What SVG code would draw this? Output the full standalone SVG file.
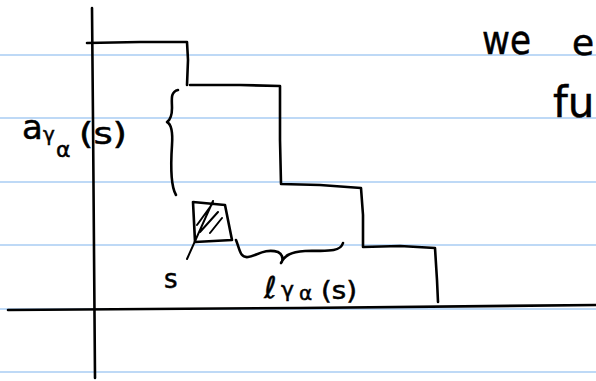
<svg xmlns="http://www.w3.org/2000/svg" width="596" height="381" viewBox="0 0 596 381">
<style>
.rule{stroke:#a9cdf3;stroke-width:1.6;fill:none}
.ink{stroke:#000;stroke-width:2.6;fill:none;stroke-linecap:round;stroke-linejoin:round}
.thin{stroke:#000;stroke-width:2;fill:none;stroke-linecap:round}
.t{font-family:"DejaVu Sans","Liberation Sans",sans-serif;fill:#000;stroke:#000;stroke-width:0.5}
</style>
<rect width="596" height="381" fill="#fff"/>
<g id="rules">
<line class="rule" x1="0" y1="55" x2="596" y2="55"/>
<line class="rule" x1="0" y1="118" x2="596" y2="118"/>
<line class="rule" x1="0" y1="182" x2="596" y2="182"/>
<line class="rule" x1="0" y1="245" x2="596" y2="245"/>
<line class="rule" x1="0" y1="309" x2="596" y2="309"/>
<line class="rule" x1="0" y1="372" x2="596" y2="372"/>
</g>
<g id="axes">
<path class="ink" d="M92,8 L93,120 L94,250 L95,378"/>
<path class="ink" d="M8,310 L300,308 L596,305"/>
</g>
<g id="staircase">
<path class="ink" d="M87,43 L140,42 L187,42 L188,60 L187,85 M190,85 L240,85 L280,86 L280,140 L281,184 L320,185 L361,188 L363,215 L363,247 L400,246 L435,248 L437,280 L438,302"/>
</g>
<g id="brace-a">
<path class="ink" d="M178,90 C170,92 172,100 172,108 C172,116 170,120 167,122 C171,124 173,130 172,145 C171,160 170,185 176,195"/>
</g>
<g id="square-s">
<path class="ink" d="M193,202 L225,205 L232,240 L195,242 Z M195,241 L193,202"/>
<path class="thin" d="M197,225 L213,203 M200,232 L218,212 M210,233 L222,218 M187,259 L213,201"/>
</g>
<g id="brace-l">
<path class="ink" d="M236,240 C240,250 240,258 248,257 C256,256 265,248 278,252 C285,256 282,262 281,263 C284,256 290,252 305,251 C320,250 340,254 343,243"/>
</g>
<g id="labels">
<text class="t" x="22" y="139" font-size="34">a</text>
<text class="t" x="43" y="141" font-size="20">γ</text>
<text class="t" x="56" y="157" font-size="22">α</text>
<text class="t" x="79" y="144" font-size="30" textLength="48" lengthAdjust="spacingAndGlyphs">(s)</text>
<text class="t" x="164" y="288" font-size="26">s</text>
<text class="t" x="264" y="298" font-size="30">ℓ</text>
<text class="t" x="281" y="297" font-size="22">γ</text>
<text class="t" x="299" y="300" font-size="20">α</text>
<text class="t" x="321" y="299" font-size="24" textLength="36" lengthAdjust="spacingAndGlyphs">(s)</text>
<text class="t" x="482" y="54" font-size="40" textLength="49" lengthAdjust="spacingAndGlyphs">we</text>
<text class="t" x="572" y="55" font-size="36">e</text>
<text class="t" x="553" y="117" font-size="42">fu</text>
</g>
</svg>
